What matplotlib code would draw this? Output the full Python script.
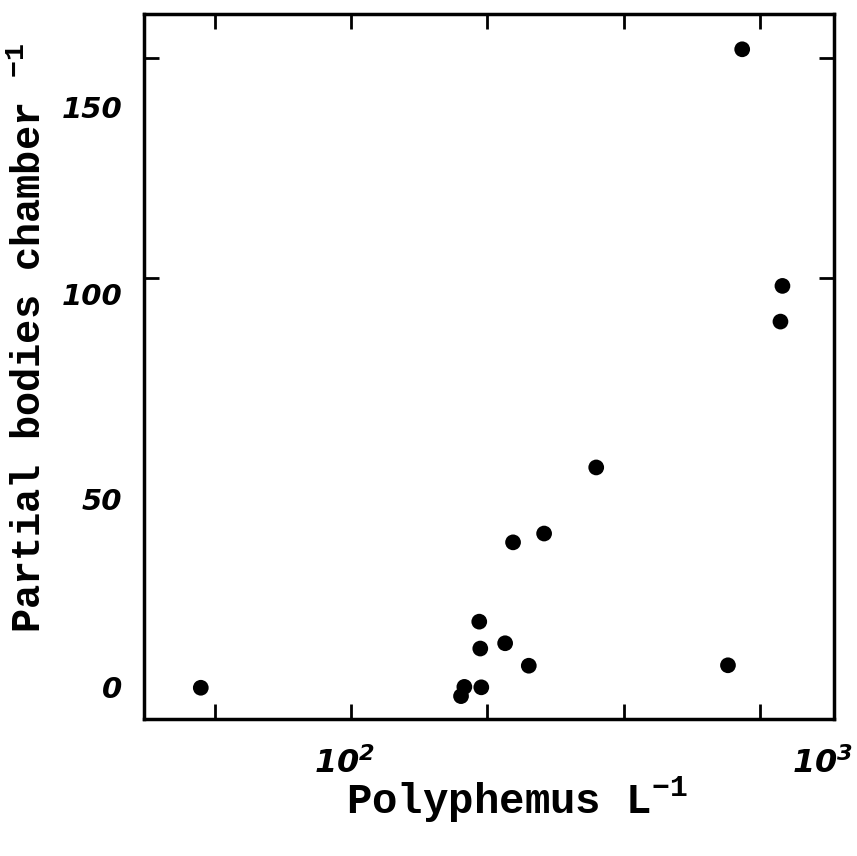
import numpy as np
import matplotlib
matplotlib.use("Agg")
import matplotlib.pyplot as plt
from matplotlib.ticker import FixedLocator, NullFormatter

# data
polyphemus = [46.6, 175, 178, 194, 193, 192, 219, 228, 247, 267, 348, 680, 731, 897, 888]
partial_bodies = [7.1, 5.2, 7.3, 7.2, 16.0, 22.1, 17.2, 40.1, 12.1, 42.1, 57.1, 12.2, 152.0, 98.3, 90.2]

# tick marks and where the original put its labels
x_tick_marks = [50, 100, 200, 400, 800]
x_label_pos = [97, 1100]
x_label_txt = [r"$\mathdefault{10^{2}}$", r"$\mathdefault{10^{3}}$"]
y_tick_marks = [50, 100, 150]
y_label_pos = [7.3, 50, 96.4, 139]
y_label_txt = ["0", "50", "100", "150"]

XLIM = (35, 1163)
YLIM = (0, 160)

fig = plt.figure(figsize=(8.57, 8.56), dpi=100)
ax = fig.add_axes([0.1686, 0.160, 0.804, 0.8236])

ax.scatter(polyphemus, partial_bodies, s=128, color="black", edgecolors="none", zorder=3)

ax.set_xscale("log")
ax.set_xlim(*XLIM)
ax.set_ylim(*YLIM)

tick_font = dict(family="DejaVu Sans", weight="bold", style="oblique", size=21)

ax.xaxis.set_major_locator(FixedLocator(x_label_pos))
ax.set_xticklabels(x_label_txt, fontdict=dict(tick_font, size=23))
ax.xaxis.set_minor_locator(FixedLocator(x_tick_marks))
ax.xaxis.set_minor_formatter(NullFormatter())

ax.yaxis.set_major_locator(FixedLocator(y_label_pos))
ax.set_yticklabels(y_label_txt, fontdict=tick_font)
ax.yaxis.set_minor_locator(FixedLocator(y_tick_marks))
ax.yaxis.set_minor_formatter(NullFormatter())

ax.tick_params(which="major", length=0, pad=16)
ax.tick_params(axis="x", which="major", pad=20)
ax.tick_params(which="minor", direction="in", length=11, width=2.0,
               top=True, right=True, bottom=True, left=True)

for sp in ax.spines.values():
    sp.set_linewidth(2.5)

label_font = dict(family="Liberation Mono", weight="bold", size=29)
fig.text(0.035, 0.605, r"Partial bodies chamber $\mathregular{^{-1}}$",
         rotation=90, ha="center", va="center", **label_font)
fig.text(0.603, 0.065, r"Polyphemus L$\mathregular{^{-1}}$",
         ha="center", va="center", **dict(label_font, size=30.5))

fig.savefig("out.png", dpi=100, facecolor="white")
